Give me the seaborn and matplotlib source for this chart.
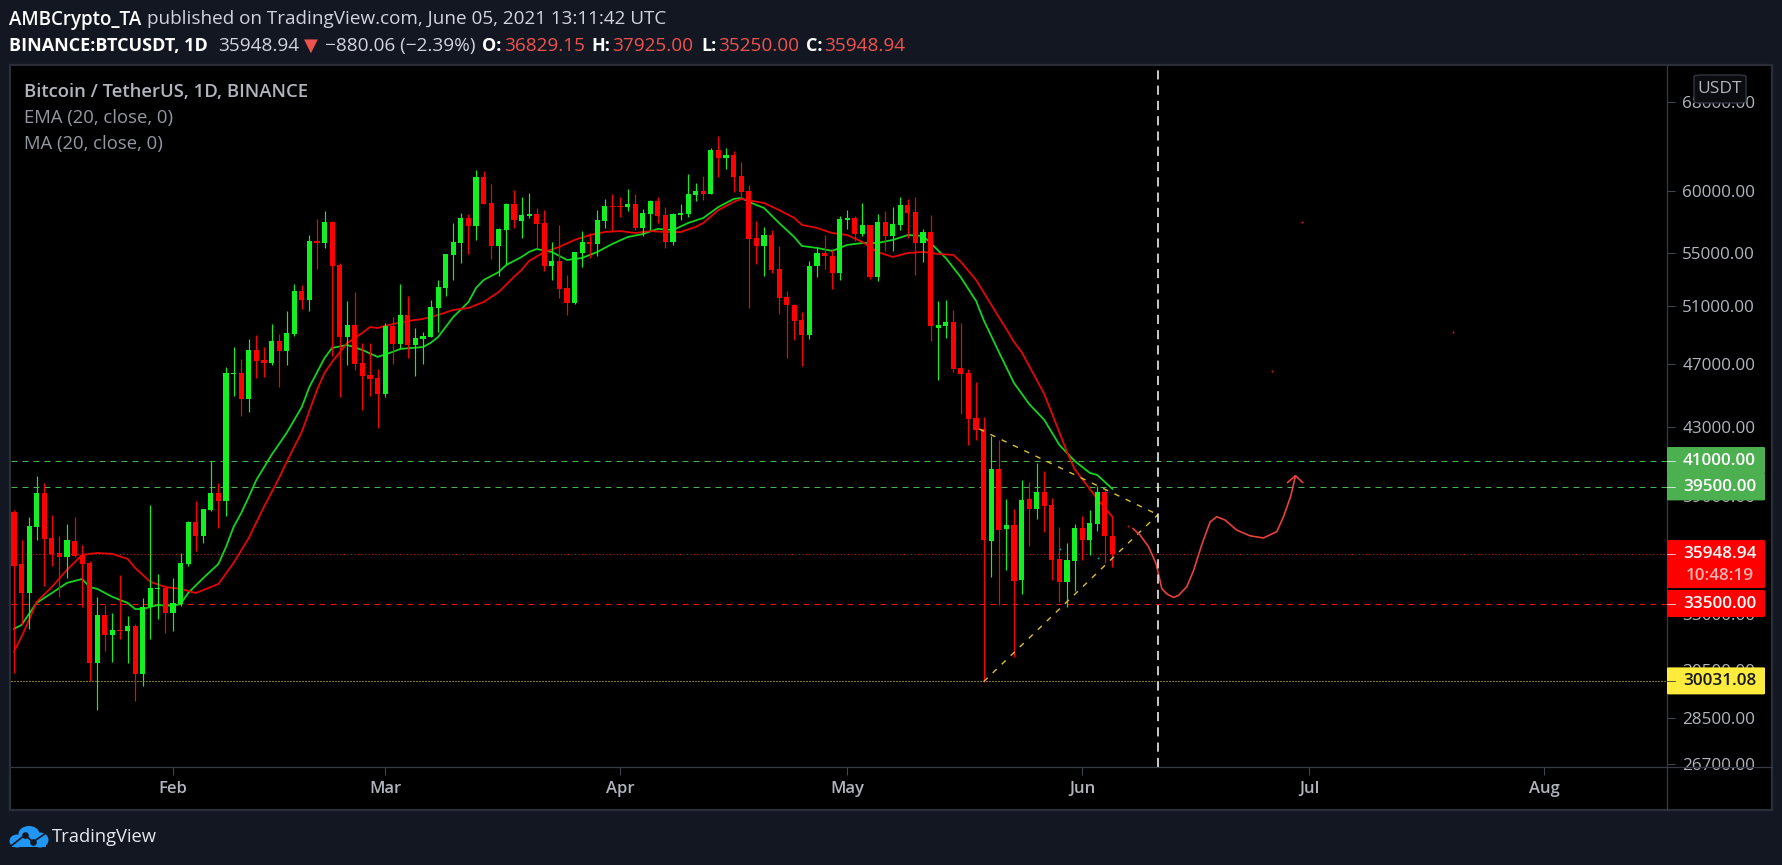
#!/usr/bin/env python3
# BTCUSDT daily candles with EMA / MA and hand drawn levels
import pandas as pd
import seaborn as sns
import matplotlib
matplotlib.use('Agg')
import matplotlib.pyplot as plt
import matplotlib.dates as mdates
from matplotlib.patches import Rectangle, FancyBboxPatch, Ellipse
from matplotlib.lines import Line2D
from matplotlib.ticker import FuncFormatter, NullLocator

W, H = 1783, 865

# daily candles, first one is 2021-01-11
first_day = '2021-01-11'
opens = [38130, 35430, 34000, 37330, 39165, 36750, 35980, 35780, 36600, 35880,
         35480, 30800, 32960, 32050, 32270, 32230, 32460, 30330, 33340, 34200,
         34250, 33060, 33480, 35430, 37590, 36860, 38230, 39165, 38720, 46330,
         46400, 44730, 47930, 47260, 47060, 48540, 47860, 49020, 52100, 51440,
         55910, 55750, 57430, 54050, 48820, 49650, 47060, 46270, 46070, 45040,
         49580, 48340, 50360, 48270, 48680, 48820, 50860, 52320, 54820, 55750,
         57760, 57110, 61200, 58990, 55520, 56780, 58910, 57510, 57920, 58080,
         57350, 53970, 54350, 52320, 51220, 54970, 55830, 55680, 57510, 58740,
         58740, 58660, 58910, 56950, 58080, 59160, 58000, 55830, 58000, 58080,
         59670, 60000, 59750, 63580, 62860, 63130, 61290, 60000, 56150, 55520,
         56380, 53740, 51660, 51080, 50000, 48960, 53970, 54970, 54740, 53440,
         57590, 57760, 56470, 57190, 53140, 57430, 56300, 57190, 58830, 58250,
         55750, 56620, 49440, 49580, 49860, 46730, 46400, 43540, 42870, 36600,
         40510, 37220, 37430, 34630, 38830, 38290, 39220, 38500, 35680, 34540,
         35580, 37280, 36650, 37490, 39220, 36829.15]
highs = [38230, 36650, 37860, 40115, 39720, 37970, 36860, 37490, 37860, 36390,
         35580, 33815, 33430, 33060, 34880, 32920, 32550, 33770, 38510, 34930,
         34340, 34730, 35980, 37650, 38720, 38290, 40975, 39720, 46800, 48130,
         47330, 48680, 48955, 48130, 49720, 49020, 50640, 52610, 52540, 56380,
         57670, 58330, 57510, 54200, 51370, 52020, 48410, 48410, 46660, 49790,
         50220, 52610, 51730, 49440, 49160, 51440, 52910, 54890, 57350, 58160,
         58080, 61810, 61720, 60600, 56950, 58990, 60085, 59500, 59830, 58580,
         58410, 55830, 57190, 53290, 55050, 56700, 56540, 58410, 59330, 59750,
         59500, 60170, 59750, 58490, 59240, 59500, 58660, 58160, 58910, 61460,
         60690, 61290, 63760, 64850, 63760, 63490, 62510, 60510, 57510, 57030,
         56780, 55520, 52100, 51150, 50570, 54350, 55440, 56380, 55200, 57920,
         58410, 57920, 58990, 57190, 58080, 58330, 58660, 59500, 59330, 59500,
         56860, 58000, 51370, 51440, 50720, 49790, 46660, 45810, 43600, 42450,
         42210, 38830, 38290, 39890, 39780, 40860, 40400, 38890, 37330, 36490,
         37490, 37910, 38230, 39550, 39390, 37925]
lows = [30370, 32500, 32320, 36650, 34340, 35330, 33820, 34730, 35780, 33340,
        30030, 28820, 31330, 30850, 31870, 30800, 29190, 29820, 31870, 32780,
        32140, 32230, 33390, 35330, 36080, 36490, 38180, 37280, 37910, 44920,
        43660, 43910, 46070, 46140, 46930, 45490, 46930, 48890, 50790, 50640,
        53740, 55360, 47530, 44850, 46930, 46600, 44040, 44920, 42930, 44850,
        46990, 48070, 47390, 46200, 46990, 48820, 49160, 51730, 52910, 54200,
        54890, 55990, 58910, 54500, 53210, 54050, 56950, 56150, 57760, 55360,
        53590, 52910, 51580, 50360, 51150, 53890, 54580, 54740, 56950, 56700,
        57840, 58330, 56780, 56300, 56780, 57350, 55360, 55600, 57590, 57840,
        59160, 59240, 59750, 61200, 61890, 59920, 59410, 50860, 54120, 53210,
        53440, 50430, 47390, 48610, 46860, 48680, 53140, 53740, 52240, 52910,
        56860, 55910, 56300, 52990, 52840, 55130, 55130, 56780, 56150, 53290,
        54270, 48540, 45940, 48750, 46460, 43790, 41910, 42210, 30000, 34780,
        33430, 35130, 31070, 33960, 36340, 37750, 37070, 34630, 33580, 33340,
        34100, 35630, 35880, 37120, 35480, 35250]
closes = [35330, 34000, 37380, 39165, 36700, 35930, 35780, 36650, 35830, 35430,
          30800, 32960, 32050, 32270, 32230, 32460, 30330, 33340, 34250, 34250,
          33060, 33530, 35480, 37590, 36860, 38290, 39165, 38720, 46400, 46400,
          44730, 47930, 47190, 47060, 48540, 47860, 49100, 52100, 51440, 55910,
          55750, 57430, 53970, 48820, 49650, 46990, 46200, 46010, 45040, 49580,
          48340, 50360, 48270, 48750, 48880, 50930, 52390, 54890, 55830, 57760,
          57110, 61200, 58910, 55520, 56860, 58910, 57590, 58000, 58080, 57270,
          53970, 54350, 52240, 51220, 55050, 55830, 55680, 57590, 58740, 58660,
          58660, 58910, 56950, 58160, 59160, 57920, 55830, 58080, 58160, 59750,
          60000, 59750, 63580, 62860, 63130, 61200, 59920, 56070, 55520, 56380,
          53660, 51580, 51080, 49930, 48960, 53970, 54970, 54740, 53440, 57670,
          57760, 56470, 57190, 53140, 57430, 56300, 57270, 58830, 58160, 55750,
          56620, 49600, 49650, 49860, 46660, 46330, 43480, 42810, 36650, 40510,
          37170, 37430, 34590, 38780, 38290, 39220, 38450, 35630, 34540, 35630,
          37280, 36650, 37540, 39220, 36829.15, 35948.94]

# indicators, read every couple of days (day = days after first_day)
ema_days = [0, 1, 3, 5, 7, 9, 10, 11, 13, 15, 16, 17, 19, 21, 22, 23, 25, 27, 28, 29,
            30, 31, 32, 34, 36, 38, 39, 41, 42, 44, 46, 48, 50, 51, 54, 55, 56, 58, 60, 61,
            62, 64, 65, 67, 68, 69, 71, 73, 75, 77, 79, 81, 83, 85, 87, 89, 91, 93, 95, 96,
            97, 99, 101, 103, 104, 106, 108, 110, 112, 114, 116, 118, 120, 121, 123, 125,
            127, 128, 130, 132, 134, 136, 138, 140, 142, 143, 145]
ema_values = [32320, 32500, 33530, 34000, 34490, 34680, 34290, 34200, 33815, 33530, 33240,
              33240, 33430, 33390, 33480, 34000, 34730, 35430, 36290, 37330, 38070, 38945,
              39890, 41320, 42630, 44220, 45490, 47390, 48070, 48270, 47930, 47460, 47800,
              48000, 48130, 48410, 48820, 50220, 51290, 52320, 52910, 53510, 54050, 54660,
              55050, 55280, 55050, 54430, 54580, 55050, 55680, 56220, 56460, 56870, 56780,
              57350, 57760, 58660, 59330, 59410, 59080, 58580, 57350, 56220, 55520, 55360,
              55130, 55600, 55750, 55750, 55990, 56380, 56300, 55750, 54580, 53100, 51370,
              50000, 47800, 45750, 44410, 43420, 41910, 40980, 40290, 40170, 39385]
ma_days = [0, 1, 2, 3, 5, 7, 9, 11, 13, 15, 16, 18, 20, 22, 24, 26, 27, 29, 31, 33,
           35, 36, 38, 40, 41, 42, 44, 46, 47, 48, 50, 52, 54, 56, 58, 60, 62, 64, 66, 67,
           68, 70, 72, 74, 76, 78, 80, 82, 84, 86, 88, 90, 91, 93, 95, 96, 99, 101, 103, 104,
           106, 108, 110, 112, 114, 116, 118, 120, 122, 124, 125, 127, 129, 131, 132, 133,
           135, 136, 138, 139, 140, 142, 143, 144, 145]
ma_values = [31290, 31960, 32730, 33580, 34290, 35130, 35880, 35980, 35930, 35680, 35230,
             34540, 34290, 34200, 34000, 34290, 34440, 35480, 36750, 38400, 40000, 40920,
             42690, 45300, 46400, 47130, 48410, 49100, 49510, 49440, 49720, 49930, 50080,
             50360, 50720, 50860, 51290, 52020, 53140, 53660, 54350, 55050, 55440, 55990,
             56380, 56620, 56700, 56540, 56700, 56620, 56620, 57030, 57350, 58410, 59080,
             59330, 58990, 58410, 57760, 57190, 56950, 56540, 56380, 55830, 55050, 54660,
             54970, 55050, 54890, 54820, 54280, 52910, 51100, 49370, 48480, 47800, 45940,
             45040, 42660, 41500, 40510, 39390, 38830, 38340, 37860]

# levels drawn on the chart
green_levels = [41000, 39500]
red_level = 33500
last_price = 35948.94
low_level = 30031.08
cursor_day = 151

# triangle drawn over the May-June range
tri_upper_days = [127.4, 151]
tri_upper_prices = [42870, 37980]
tri_lower_days = [128, 151]
tri_lower_prices = [30000, 37980]

# hand drawn forecast curve and its arrow head
sketch_days = [147.69, 148.65, 149.75, 150.77, 151.51, 152.17, 153.05, 153.71, 154.81,
               155.69, 156.79, 157.89, 158.77, 159.87, 161.41, 163.18, 164.94, 166.69,
               167.58, 168.54, 169.16]
sketch_prices = [37250, 36900, 36310, 35430, 34220, 33960, 33790, 33880, 34300, 35080,
                 36400, 37590, 37870, 37690, 37160, 36860, 36750, 37080, 37870, 39000, 40130]
arrow_days = [168.1, 169.16, 170.13]
arrow_prices = [39740, 40130, 39740]

# stray specks left on the canvas
speck_days = [147.07, 166.08, 170.04, 190]
speck_prices = [37380, 46530, 57430, 49160]
cyan_days = [138.1, 143.1]
cyan_prices = [36180, 35730]

ytick_values = [68000, 60000, 55000, 51000, 47000, 43000, 39000, 33000, 30500, 28500, 26700]

BG = '#131722'
EDGE = '#2a2e39'
GRAY = '#b2b5be'
UP = '#13f022'
DOWN = '#ff0000'
BODY_FONT = ['Open Sans', 'DejaVu Sans']

sns.set_theme(style='dark')
plt.rcParams['font.family'] = BODY_FONT
plt.rcParams['axes.unicode_minus'] = False


def fx(x):
    return x / W


def fy(y):
    return 1 - y / H


def put(x, y, s, color='#d1d4dc', size=13.7, weight='normal', ha='left', zorder=8):
    return fig.text(fx(x), fy(y), s, color=color, fontsize=size, fontweight=weight,
                    ha=ha, va='center', zorder=zorder)


fig = plt.figure(figsize=(W / 100, H / 100), dpi=100, facecolor=BG)

# black canvas with the frame around chart and axis panes
fig.add_artist(Rectangle((fx(10), fy(810)), fx(1762), 745 / H, transform=fig.transFigure,
                         facecolor='black', edgecolor=EDGE, linewidth=1.6, zorder=-1))

ax = fig.add_axes([fx(11), fy(767), fx(1656), 701 / H], facecolor='black')

base = mdates.date2num(pd.Timestamp(first_day))
dates = mdates.date2num(pd.date_range(first_day, periods=len(opens)))
candles = pd.DataFrame({'x': dates, 'open': opens, 'high': highs, 'low': lows, 'close': closes})
candles['up'] = candles['close'] >= candles['open']
candles['color'] = candles['up'].map({True: UP, False: DOWN})

# levels sit behind everything else
for level in green_levels:
    ax.axhline(level, color='#4caf50', lw=0.72, ls=(0, (6, 5)), zorder=1)
ax.axhline(red_level, color='#f01010', lw=0.72, ls=(0, (6, 5)), zorder=1)
ax.axhline(last_price, color='#e01010', lw=0.72, ls=(0, (1, 2.5)), zorder=1)
ax.axhline(low_level, color='#ffeb3b', lw=0.72, ls=(0, (1, 2)), zorder=1)

sns.lineplot(x=base + pd.Series(ema_days), y=ema_values, ax=ax, color='#12d41e', lw=1.3,
             errorbar=None, estimator=None, zorder=2)
sns.lineplot(x=base + pd.Series(ma_days), y=ma_values, ax=ax, color='#e60505', lw=1.3,
             errorbar=None, estimator=None, zorder=2)

ax.vlines(candles['x'], candles['low'], candles['high'], colors=candles['color'], lw=0.85, zorder=3)
ax.bar(candles['x'], (candles['close'] - candles['open']).abs(),
       bottom=candles[['open', 'close']].min(axis=1), width=0.68,
       color=candles['color'], linewidth=0, zorder=4)

# triangle, forecast sketch and cursor
for tri_x, tri_y in [(tri_upper_days, tri_upper_prices), (tri_lower_days, tri_lower_prices)]:
    ax.plot(base + pd.Series(tri_x), tri_y, color='#dcc02c', lw=1.0, ls=(0, (4, 5)), zorder=5)
ax.plot(base + pd.Series(sketch_days), sketch_prices, color='#e8403c', lw=1.2, zorder=5)
ax.plot(base + pd.Series(arrow_days), arrow_prices, color='#e8403c', lw=1.2, zorder=5)
ax.axvline(base + cursor_day, color='white', lw=1.1, ls=(0, (6, 4)), zorder=6)
ax.scatter(base + pd.Series(speck_days), speck_prices, s=2, color='#d02020', linewidths=0, zorder=5)
ax.scatter(base + pd.Series(cyan_days), cyan_prices, s=2, color='#00a0b0', linewidths=0, zorder=5)

ax.set_yscale('log')
ax.set_xlim(base - 0.386, base + 218.2)
ax.set_ylim(26591, 71588)
ax.yaxis.tick_right()
ax.set_yticks(ytick_values)
ax.yaxis.set_major_formatter(FuncFormatter(lambda v, _: f'{v:.2f}'))
ax.yaxis.set_minor_locator(NullLocator())
ax.xaxis.set_major_locator(mdates.MonthLocator())
ax.xaxis.set_major_formatter(mdates.DateFormatter('%b'))
ax.xaxis.set_minor_locator(NullLocator())
ax.tick_params(axis='y', length=5.5, width=0.72, color='#434651', labelcolor=GRAY,
               labelsize=12.3, pad=5.5, right=True)
ax.tick_params(axis='x', length=5.5, width=0.72, color='#434651', labelcolor=GRAY,
               labelsize=12, pad=4.5, bottom=True)
for label in ax.get_xticklabels():
    label.set_fontweight('semibold')
ax.set_xlabel('')
ax.set_ylabel('')
ax.grid(False)
for name, spine in ax.spines.items():
    spine.set_visible(name in ('right', 'bottom'))
    spine.set_color('#363a45')
    spine.set_linewidth(0.9)

# axis separators run on through the panes
fig.add_artist(Line2D([fx(1667), fx(1772)], [fy(767), fy(767)], color='#363a45', lw=0.9))
fig.add_artist(Line2D([fx(1667), fx(1667)], [fy(767), fy(810)], color='#363a45', lw=0.9))

# price tags on the axis, placed through the y scale
fig.canvas.draw()


def price_tag(price, text, fill, ink='white', height=27, sub=None):
    centre = H - ax.transData.transform((base, price))[1]
    top = centre - 13.5
    fig.add_artist(FancyBboxPatch((fx(1667), fy(top + height)), fx(98), height / H,
                                  boxstyle='round,pad=0,rounding_size=0.001',
                                  transform=fig.transFigure, facecolor=fill, edgecolor='none', zorder=6))
    fig.add_artist(Line2D([fx(1667), fx(1675)], [fy(centre), fy(centre)], color=ink, alpha=0.7, lw=0.72, zorder=7))
    put(1719.5, centre, text, color=ink, size=12.3, weight='semibold', ha='center')
    if sub:
        put(1719.5, centre + 22, sub, color='#ffb3b3', size=12.3, weight='semibold', ha='center')


price_tag(41000, '41000.00', '#4caf50')
price_tag(39500, '39500.00', '#4caf50')
price_tag(last_price, '35948.94', DOWN, height=48, sub='10:48:19')
price_tag(red_level, '33500.00', DOWN)
price_tag(low_level, '30031.08', '#ffeb3b', ink='#131722')

# currency button over the top tick
fig.add_artist(FancyBboxPatch((fx(1694), fy(103)), fx(52), 28 / H,
                              boxstyle='round,pad=0,rounding_size=0.004',
                              mutation_aspect=H / W, transform=fig.transFigure,
                              facecolor='#0b0c10', edgecolor='#363a45', linewidth=0.9, zorder=6))
put(1720, 89, 'USDT', color=GRAY, size=12.5, ha='center')

# chart legend
put(24, 92, 'Bitcoin / TetherUS, 1D, BINANCE', color=GRAY, size=13.3, weight='semibold')
put(24, 118, 'EMA (20, close, 0)', color='#9598a1', size=13.3)
put(24, 144, 'MA (20, close, 0)', color='#9598a1', size=13.3)

# publication header
put(9, 19.5, 'AMBCrypto_TA', color='white', size=13.5, weight='semibold')
put(147, 19.5, 'published on TradingView.com, June 05, 2021 13:11:42 UTC', color='#d1d4dc', size=13.6)
put(9, 46, 'BINANCE:BTCUSDT, 1D', color='white', size=13, weight='bold')
put(218, 46, '35948.94')
put(304, 46, '▼', color='#ef5350', size=13)
put(325, 46, '−880.06 (−2.39%)')
for head_x, head, value_x, value in [(482, 'O:', 504, '36829.15'), (591, 'H:', 612, '37925.00'),
                                     (701, 'L:', 718, '35250.00'), (806, 'C:', 824, '35948.94')]:
    put(head_x, 46, head, color='white', size=13, weight='bold')
    put(value_x, 46, value, color='#ef5350')

# footer logo
logo = fig.add_axes([fx(9), fy(848), fx(40), 22 / H])
logo.set_xlim(0, 40)
logo.set_ylim(22, 0)
logo.axis('off')
for cx, cy, ew, eh in [(20, 8, 21, 16), (8, 15, 15, 13), (31, 14, 17, 15)]:
    logo.add_patch(Ellipse((cx, cy), ew, eh, color='#2196f3', lw=0))
logo.add_patch(Rectangle((3, 14), 34, 7, color='#2196f3', lw=0))
logo.plot([2, 16, 24, 37], [20, 9, 16, 7], color=BG, lw=1.2)
logo.scatter([16, 24], [9, 16], s=14, color=BG, zorder=3)
put(52, 837, 'TradingView', color='#e6e8ee', size=13.2)

fig.savefig('out.png', dpi=100, facecolor=BG)
